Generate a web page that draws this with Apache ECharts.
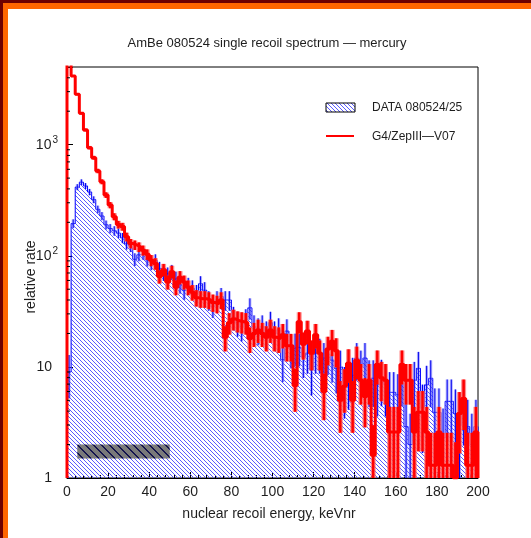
<!DOCTYPE html>
<html>
<head>
<meta charset="utf-8">
<script src="https://cdn.jsdelivr.net/npm/echarts@6/dist/echarts.min.js"></script>
<style>
html,body{margin:0;padding:0;background:#fff;}
#page{position:absolute;left:0;top:0;width:531px;height:538px;background:#fff;overflow:hidden;}
#bTopDark{position:absolute;left:0;top:0;width:531px;height:3px;background:#6e0000;}
#bLeftDark{position:absolute;left:0;top:0;width:3px;height:538px;background:#6e0000;}
#bTopOr{position:absolute;left:3px;top:3px;width:528px;height:6px;background:#ff6600;}
#bLeftOr{position:absolute;left:3px;top:3px;width:5px;height:535px;background:#ff6600;}
#chart{position:absolute;left:0;top:0;width:531px;height:538px;}
</style>
</head>
<body>
<div id="page">
  <div id="bTopDark"></div><div id="bLeftDark"></div>
  <div id="bTopOr"></div><div id="bLeftOr"></div>
  <div id="chart"></div>
</div>
<script>
// ---------------- data ----------------
const binWidth = 2;              // keVnr per bin
const energyRange = [0, 200];    // x axis range
const rateRange = [1, 5000];     // y axis range (log)
const xTickLabels = ['0','20','40','60','80','100','120','140','160','180','200'];
const yMajorTicks = [1, 10, 100, 1000];
const yMinorTicks = [2,3,4,5,6,7,8,9,20,30,40,50,60,70,80,90,200,300,400,500,600,700,800,900,2000,3000,4000];

// DATA 080524/25 (blue hatched histogram), one value per 2 keVnr bin
const dataRate = [
  9, 195, 415, 460, 425, 375, 320, 262, 228, 190,
  176, 168, 160, 145, 128, 122, 93, 102, 105, 92,
  86, 91, 77, 70, 68, 72, 62, 55, 49, 54,
  51, 46, 56, 49, 40, 35, 40, 43, 40, 40,
  28, 25, 23, 26.5, 34, 23, 21.5, 23, 20, 25,
  20, 21.5, 11.6, 21, 14.5, 15, 15, 12.4, 13.3, 9.4,
  13.3, 13.3, 12, 13, 11.5, 9.7, 10, 6.7, 7.6, 8.4,
  12, 10, 12, 7.9, 7.9, 6.9, 8, 6.9, 5.9, 5.9,
  5.6, 8, 2.9, 2, 7.6, 9.7, 4.3, 6.9, 7.9, 3.9,
  3.9, 2.3, 4.9, 4.9, 3.8, 3, 4.7, 2.9, 2, 2.9
];

// G4/ZepIII-V07 (red histogram)
const mcRate = [
  6000, 4160, 2840, 1915, 1357, 940, 763, 580, 464, 352,
  286, 225, 191, 183, 148, 129, 125, 120, 112, 103,
  91, 85, 65, 75, 58, 72, 52, 64, 58, 52,
  47, 42, 41, 41, 40, 38, 37, 40, 18.5, 25,
  27, 26, 25.5, 25, 18, 20, 21.5, 20, 18.5, 21.5,
  18.5, 18, 19.5, 15.5, 15.5, 6.8, 25.5, 16, 21, 13.3,
  19.5, 13.3, 6, 14.5, 17, 14, 5, 6.7, 10.8, 5,
  11.5, 7.6, 5.4, 7.6, 1.6, 10.5, 8, 7.6, 2.6, 2.6,
  2.6, 10.5, 7.6, 7.6, 2.6, 3.9, 3.9, 2.6, 1.3, 1.3,
  2.6, 1.3, 1.3, 1.3, 1, 3.8, 5.2, 1.3, 1.3, 2.6
];

// counts-to-rate scale used for the Poisson error bars
const dataCountScale = 1.6;
const mcCountScale = 1.2;

// grey hatched box near the bottom-left: [E from, E to, rate from, rate to]
const boxEnergy = [5, 50];
const boxRate = [1.5, 2];

const titleText = 'AmBe 080524 single recoil spectrum \u2014 mercury';
const xTitle = 'nuclear recoil energy, keVnr';
const yTitle = 'relative rate';
const legendNames = ['DATA 080524/25', 'G4/ZepIII\u2014V07'];

// ---------------- helpers ----------------
function hatchTile(size, fg, bg, thick) {
  const c = document.createElement('canvas');
  c.width = c.height = size;
  const g = c.getContext('2d');
  if (bg) { g.fillStyle = bg; g.fillRect(0, 0, size, size); }
  g.fillStyle = fg;
  for (let i = 0; i < size; i++) {
    for (let t = 0; t < thick; t++) g.fillRect((i + t) % size, i, 1, 1);
  }
  return c;
}
const blueHatch = { image: hatchTile(4, '#5a5aff', null, 1), repeat: 'repeat' };
const blueHatchLegend = { image: hatchTile(4, '#5a5aff', '#ffffff', 1), repeat: 'repeat' };
const greyHatch = { image: hatchTile(8, '#14144e', '#7a7a7a', 2), repeat: 'repeat' };

function stepPoints(vals) {
  const pts = [[energyRange[0], rateRange[0]]];
  vals.forEach((v, i) => pts.push([energyRange[0] + i * binWidth, v]));
  const end = energyRange[0] + vals.length * binWidth;
  pts.push([end, vals[vals.length - 1]]);
  pts.push([end, rateRange[0]]);
  return pts;
}
function errPoints(vals, scale) {
  return vals.map((v, i) => {
    const e = Math.sqrt(v * scale);
    return [energyRange[0] + (i + 0.5) * binWidth, Math.max(v - e, rateRange[0]), v + e];
  });
}
function errRenderer(fill, stroke, w, lw) {
  return function (params, api) {
    const x = api.value(0);
    const p1 = api.coord([x, api.value(1)]);
    const p2 = api.coord([x, api.value(2)]);
    return {
      type: 'group',
      children: [
        { type: 'rect', shape: { x: p1[0] - w / 2, y: p2[1], width: w, height: p1[1] - p2[1] },
          style: { fill: fill } },
        { type: 'line', shape: { x1: p1[0], y1: p1[1], x2: p2[0], y2: p2[1] },
          style: { stroke: stroke, lineWidth: lw } }
      ]
    };
  };
}

const font = 'Liberation Sans, Arial, Helvetica, sans-serif';
const txt = '#1e1e1e';

const chart = echarts.init(document.getElementById('chart'), null, { renderer: 'canvas' });
chart.setOption({
  animation: false,
  backgroundColor: 'transparent',
  grid: { left: 67, top: 67, width: 411, height: 411, show: true, borderColor: '#000', borderWidth: 1,
          backgroundColor: 'transparent', outerBoundsMode: 'none', containLabel: false },
  xAxis: {
    type: 'value', min: energyRange[0], max: energyRange[1], interval: 20,
    axisLine: { show: true, lineStyle: { color: '#000', width: 1 } },
    axisTick: { show: true, inside: true, length: 6, lineStyle: { color: '#000' } },
    minorTick: { show: true, splitNumber: 5, length: 3, lineStyle: { color: '#000' } },
    splitLine: { show: false }, minorSplitLine: { show: false },
    axisLabel: { margin: 7, fontSize: 14, color: txt, fontFamily: font,
      formatter: v => xTickLabels[Math.round((v - energyRange[0]) / 20)] ?? '' }
  },
  yAxis: {
    type: 'log', logBase: 10, min: rateRange[0], max: rateRange[1],
    axisLine: { show: true, lineStyle: { color: '#000', width: 1 } },
    axisTick: { show: true, inside: true, length: 6, lineStyle: { color: '#000' } },
    splitLine: { show: false },
    axisLabel: {
      margin: 9, fontSize: 14, color: txt, fontFamily: font,
      formatter: v => {
        const l = Math.log10(v), e = Math.round(l);
        if (Math.abs(l - e) > 1e-6 || yMajorTicks.indexOf(Math.pow(10, e)) < 0) return '';
        if (e === 0) return '1{s|}';
        if (e === 1) return '10{s|}';
        return '10{p|' + e + '}';
      },
      rich: {
        s: { width: 6 },
        p: { fontSize: 10, fontFamily: font, color: txt, padding: [0, 0, 9, 1] }
      }
    }
  },
  series: [
    {
      name: legendNames[0], type: 'line', step: 'end', symbol: 'none', z: 2,
      data: stepPoints(dataRate),
      lineStyle: { color: '#0000ff', width: 1 },
      areaStyle: { color: blueHatch, origin: 'start', opacity: 1 }
    },
    {
      type: 'custom', z: 3, clip: true,
      renderItem: function (params, api) {
        const a = api.coord([api.value(0), api.value(3)]);
        const b = api.coord([api.value(1), api.value(2)]);
        return { type: 'rect', shape: { x: a[0], y: a[1], width: b[0] - a[0], height: b[1] - a[1] },
                 style: { fill: greyHatch } };
      },
      data: [[boxEnergy[0], boxEnergy[1], boxRate[0], boxRate[1]]]
    },
    {
      type: 'custom', z: 3, clip: true,
      renderItem: errRenderer('rgba(120,120,255,0.55)', '#0000ee', 3, 1),
      data: errPoints(dataRate, dataCountScale)
    },
    {
      type: 'custom', z: 4, clip: true,
      renderItem: errRenderer('rgba(255,110,110,0.75)', '#ff0000', 5, 2.5),
      data: errPoints(mcRate, mcCountScale)
    },
    {
      name: legendNames[1], type: 'line', step: 'end', symbol: 'none', z: 5,
      data: stepPoints(mcRate),
      lineStyle: { color: '#ff0000', width: 3 }
    },
    {
      type: 'custom', z: 6, clip: false,
      renderItem: function (params, api) {
        const p = api.coord([energyRange[0], api.value(0)]);
        return { type: 'line', shape: { x1: p[0], y1: p[1], x2: p[0] + 3, y2: p[1] },
                 style: { stroke: '#000', lineWidth: 1 } };
      },
      data: yMinorTicks.map(v => [v])
    }
  ],
  graphic: [
    { type: 'text', style: { text: titleText, x: 267, y: 43, textAlign: 'center',
      textVerticalAlign: 'middle', fontSize: 13, fontFamily: font, fill: txt } },
    { type: 'text', style: { text: xTitle, x: 269, y: 514, textAlign: 'center', textVerticalAlign: 'middle',
      fontSize: 14, fontFamily: font, fill: txt } },
    { type: 'text', x: 31, y: 277, rotation: Math.PI / 2, style: { text: yTitle, x: 0, y: 0, textAlign: 'center',
      textVerticalAlign: 'middle', fontSize: 14, fontFamily: font, fill: txt } },
    { type: 'rect', shape: { x: 326, y: 103, width: 29, height: 9 },
      style: { fill: blueHatchLegend, stroke: '#000', lineWidth: 1 } },
    { type: 'line', shape: { x1: 326, y1: 136, x2: 354, y2: 136 }, style: { stroke: '#ff0000', lineWidth: 2 } },
    { type: 'text', style: { text: legendNames[0], x: 372, y: 108, textVerticalAlign: 'middle',
      fontSize: 12, fontFamily: font, fill: txt } },
    { type: 'text', style: { text: legendNames[1], x: 372, y: 137, textVerticalAlign: 'middle',
      fontSize: 12, fontFamily: font, fill: txt } }
  ]
});
</script>
</body>
</html>
